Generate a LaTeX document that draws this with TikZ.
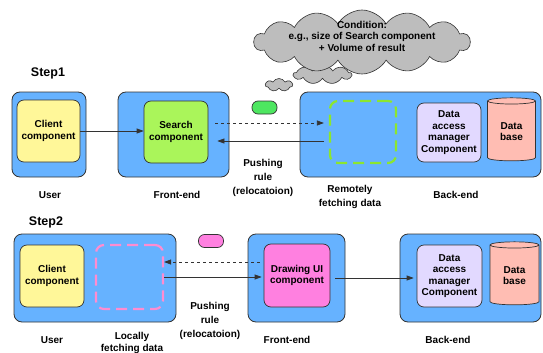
\documentclass[tikz,border=0pt]{standalone}
\usepackage{fontspec}
\setmainfont{Liberation Sans}
\usetikzlibrary{shapes.geometric,shapes.symbols,arrows.meta}

\definecolor{tierblue}{HTML}{66B2FF}
\definecolor{clientyellow}{HTML}{FFF799}
\definecolor{searchgreen}{HTML}{AAF55A}
\definecolor{pillgreen}{HTML}{4DE660}
\definecolor{damlilac}{HTML}{E2D9FF}
\definecolor{dbsalmon}{HTML}{FFBDB3}
\definecolor{uimagenta}{HTML}{FF80E0}
\definecolor{dashgreen}{HTML}{8CE62E}
\definecolor{dashpink}{HTML}{FF8CD0}
\definecolor{cloudgray}{HTML}{BDBDBD}
\definecolor{edgegray}{HTML}{333333}

\tikzset{
  tier/.style={draw=edgegray, line width=0.8pt, fill=tierblue, rounded corners=8pt},
  comp/.style={draw=edgegray, line width=0.7pt, rounded corners=7pt, align=center, inner sep=1pt},
  fetch/.style={line width=2.2pt, dash pattern=on 11pt off 6pt, rounded corners=8pt},
  dbase/.style={cylinder, shape border rotate=90, aspect=0.25, draw=edgegray, line width=0.7pt,
                fill=dbsalmon, align=center, inner sep=1pt},
  pill/.style={draw=edgegray, line width=0.7pt, rounded corners=6pt, minimum width=25pt, minimum height=13pt},
  puff/.style={cloud, cloud ignores aspect, draw=edgegray, line width=0.6pt, fill=cloudgray, inner sep=0pt},
  steplabel/.style={font=\bfseries\fontsize{12.5}{14}\selectfont},
  caption/.style={align=center},
  flow/.style={draw=edgegray, line width=0.7pt, -{Triangle[length=7pt,width=5pt]}}
}

\begin{document}
\begin{tikzpicture}[x=1pt,y=-1pt,font=\bfseries\fontsize{10}{11.5}\selectfont]
\useasboundingbox (0,0) rectangle (543,353);

%%% step 1: search runs in the front-end
\node[steplabel] (step1) at (48,73) {Step1};

\node[tier, minimum width=74pt, minimum height=85pt] (user1) at (49,134.5) {};
\node[comp, fill=clientyellow, minimum width=63pt, minimum height=62pt] (client1) at (48.5,131) {Client\\component};

\node[tier, minimum width=111pt, minimum height=85pt] (front1) at (173.5,134.5) {};
\node[comp, fill=searchgreen, minimum width=64pt, minimum height=62pt] (search1) at (176,132) {Search\\component};

\node[tier, minimum width=241pt, minimum height=85pt] (back1) at (420.5,134.5) {};
\node[fetch, draw=dashgreen, minimum width=66pt, minimum height=62pt] (remote1) at (363,132) {};
\node[comp, fill=damlilac, minimum width=64pt, minimum height=59pt] (dam1) at (449,132.5) {Data\\access\\manager\\Component};
\node[dbase, minimum width=48pt, minimum height=63pt] (db1) at (511.5,131.5) {Data\\base};

\node[pill, fill=pillgreen] (token1) at (264.5,107.5) {};

% thought bubbles
\node[puff, cloud puffs=7, cloud puff arc=120, minimum width=27pt, minimum height=13pt] (bubbleS) at (279,85) {};
\node[puff, cloud puffs=9, cloud puff arc=120, minimum width=58pt, minimum height=19pt] (bubbleM) at (322.5,74.5) {};
\node[puff, cloud puffs=14, cloud puff arc=120, minimum width=216pt, minimum height=64pt] (bubbleL) at (362,42) {};
\node[align=center] (cond) at (362,36) {Condition:\\e.g., size of Search component\\+ Volume of result};

\draw[flow] (client1.east) -- (client1.east -| search1.west);
\draw[flow, dashed, shorten <=7pt, shorten >=5pt] (search1.east |- 0,123) -- (remote1.west |- 0,123);
\draw[flow, shorten <=5pt, shorten >=9pt] (remote1.west |- 0,141) -- (search1.east |- 0,141);

\node[caption] (capuser1) at (50,195) {User};
\node[caption] (capfront1) at (177,195) {Front-end};
\node[caption, font=\bfseries\fontsize{10}{14}\selectfont] (caprule1) at (263,178) {Pushing\\rule\\(relocatoion)};
\node[caption, font=\bfseries\fontsize{10}{14}\selectfont] (capremote1) at (350,197) {Remotely\\fetching data};
\node[caption] (capback1) at (456,195) {Back-end};

%%% step 2: drawing UI in the front-end, data fetched locally
\node[steplabel] (step2) at (46,222) {Step2};

\node[tier, minimum width=162pt, minimum height=88pt] (user2) at (95,278) {};
\node[comp, fill=clientyellow, minimum width=64pt, minimum height=62pt] (client2) at (52,276) {Client\\component};
\node[fetch, draw=dashpink, minimum width=67pt, minimum height=64pt] (local2) at (129.5,277) {};

\node[pill, fill=uimagenta] (token2) at (211,241) {};

\node[tier, minimum width=97pt, minimum height=88pt] (front2) at (296.5,278) {};
\node[comp, fill=uimagenta, minimum width=66pt, minimum height=63pt] (draw2) at (297,275.5) {Drawing UI\\component};

\node[tier, minimum width=141pt, minimum height=88pt] (back2) at (470.5,278) {};
\node[comp, fill=damlilac, minimum width=65pt, minimum height=62pt] (dam2) at (449.5,276) {Data\\access\\manager\\Component};
\node[dbase, minimum width=49pt, minimum height=63pt] (db2) at (514.5,275.5) {Data\\base};

\draw[flow, dashed, shorten <=4pt] (draw2.west |- 0,262) -- (local2.east |- 0,262);
\draw[flow, shorten >=2pt] (local2.east |- 0,277) -- (draw2.west |- 0,277);
\draw[flow, shorten <=5pt, shorten >=3pt] (draw2.east |- 0,278) -- (dam2.west |- 0,278);

\node[caption] (capuser2) at (52,340) {User};
\node[caption, font=\bfseries\fontsize{10}{12}\selectfont] (caplocal2) at (132,343) {Locally\\fetching data};
\node[caption, font=\bfseries\fontsize{10}{14}\selectfont] (caprule2) at (210,321) {Pushing\\rule\\(relocatoion)};
\node[caption] (capfront2) at (287,340) {Front-end};
\node[caption] (capback2) at (448,340) {Back-end};
\end{tikzpicture}
\end{document}
